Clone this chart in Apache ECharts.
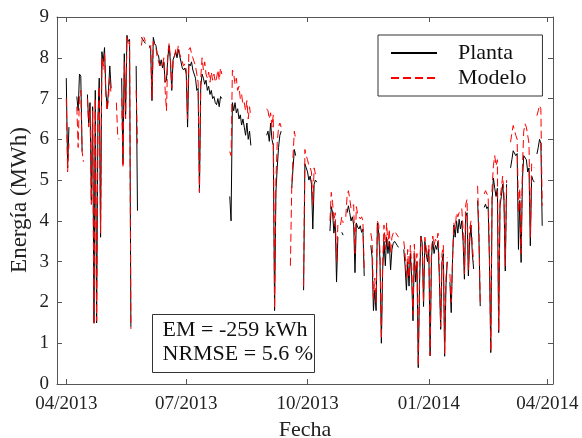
<!DOCTYPE html>
<html><head><meta charset="utf-8">
<script src="https://cdn.jsdelivr.net/npm/echarts@6/dist/echarts.min.js"></script>
<style>html,body{margin:0;padding:0;background:#fff}#c{width:582px;height:438px}</style>
</head><body><div id="c"></div>
<script>
// Daily energy (MWh), first value = 2013-04-01
const startDate = '2013-04-01';
const planta = [
7.5,5.3,6.3,null,null,null,null,null,7.05,6.7,
7.6,7.55,5.7,null,null,null,7.1,6.4,6.9,4.5,
6.8,1.5,7.2,1.5,6.5,7.5,3.6,8.15,7.9,8.25,
7.2,6.75,7.2,7.8,7.25,null,null,null,null,null,
null,null,7.5,5.4,8.1,6.6,8.55,8.4,8.45,1.4,
null,null,null,7.8,4.25,null,null,8.5,8.45,8.4,
8.35,null,null,8.3,8.2,6.95,8.5,8.35,8.3,8.1,
8.05,7.8,7.95,7.75,7.9,7.4,7.45,8.0,8.3,7.9,
7.2,7.95,8.05,8.15,8.0,8.2,8.05,7.9,7.75,7.7,
7.75,7.6,6.3,7.85,7.8,7.9,7.7,7.7,7.5,7.2,
7.25,4.7,7.3,7.6,7.5,7.35,7.45,7.2,7.3,7.1,
7.2,7.0,7.05,6.9,6.85,7.0,6.8,7.05,7.0,null,
null,null,null,null,4.6,4.0,6.9,6.7,6.9,6.65,
6.75,6.5,6.6,6.35,6.5,6.3,6.1,6.4,6.0,6.2,
5.85,null,null,null,null,null,null,null,null,null,
null,null,6.1,6.2,5.95,6.4,6.0,5.85,1.8,4.7,
5.3,5.8,6.1,6.2,null,null,null,null,null,null,
null,4.8,5.3,5.75,5.6,null,null,null,null,null,
2.3,5.4,5.3,5.2,5.0,5.1,4.9,3.8,4.9,5.0,
4.95,null,null,null,null,null,null,null,null,null,
3.75,4.35,4.2,3.7,4.0,2.5,3.6,null,null,3.72,
3.65,null,null,4.2,4.37,4.2,4.0,4.1,3.9,2.73,
3.95,3.85,3.8,3.88,3.72,3.8,2.65,null,null,null,
null,3.4,3.1,1.8,2.3,1.8,3.95,3.7,3.0,1.0,
2.8,3.5,2.9,3.6,3.2,3.5,2.8,3.3,3.45,3.5,
3.45,3.4,3.35,null,null,null,3.3,2.9,2.3,3.0,
2.4,3.2,2.6,1.55,3.2,2.5,3.0,0.4,2.5,3.63,
3.45,1.9,3.5,3.2,3.0,3.3,0.69,3.1,3.5,3.2,
3.4,3.3,3.5,2.6,1.34,3.0,3.2,0.68,2.4,3.0,
null,2.5,1.75,3.06,3.9,3.6,4.0,3.7,4.04,3.8,
4.0,3.5,2.57,4.1,4.2,2.65,3.5,3.9,3.2,2.82,
null,null,4.5,3.6,1.91,null,null,4.33,4.41,4.3,
4.35,3.0,0.77,4.5,5.05,4.8,4.6,4.8,1.26,4.37,
4.6,4.9,4.5,2.77,4.9,null,null,5.3,5.5,5.72,
5.7,5.6,5.65,3.3,4.5,2.98,5.0,5.6,5.64,5.5,
5.2,5.3,3.39,5.1,5.0,4.95,null,5.64,5.8,6.0,
5.9,3.88
];
const modelo = [
7.0,5.2,5.9,null,null,null,null,null,6.8,5.8,
7.1,7.2,5.7,5.45,null,null,7.0,6.3,6.8,4.4,
6.7,1.45,7.0,1.55,6.4,7.3,3.7,8.0,7.7,8.1,
7.1,6.7,7.0,7.5,7.1,null,null,null,6.9,6.1,
6.0,null,7.0,5.3,7.9,6.5,8.5,8.3,8.4,1.35,
null,null,null,7.2,5.9,null,null,8.3,8.55,8.5,
8.4,null,null,8.25,8.3,7.0,8.4,8.3,8.25,8.0,
7.9,7.8,7.85,7.8,8.0,7.2,6.7,8.1,8.35,8.0,
7.25,7.9,8.0,8.2,8.1,8.3,8.1,8.0,7.9,7.8,
7.85,7.7,6.5,8.2,8.25,8.1,8.0,7.9,7.8,7.6,
7.4,4.7,7.5,8.0,7.7,7.9,7.6,7.5,7.65,7.4,
7.65,7.45,7.6,7.4,7.5,7.7,7.45,7.75,7.6,null,
null,null,null,null,5.7,5.6,7.7,7.6,7.35,7.5,
7.2,7.3,7.0,7.1,6.85,6.9,6.7,6.95,6.5,6.8,
6.55,null,null,null,null,null,null,null,null,null,
null,null,6.75,6.7,6.5,6.65,6.3,6.6,1.85,5.0,
5.9,6.3,6.4,6.3,null,null,null,null,null,null,
2.9,4.8,5.6,6.2,6.0,null,null,null,null,null,
2.4,5.75,5.6,5.5,5.35,5.3,5.2,4.4,5.3,5.15,
5.1,null,null,null,null,null,null,null,null,null,
4.0,4.7,4.45,4.0,4.2,3.0,3.9,null,3.9,4.1,
3.95,null,4.1,4.6,4.74,4.55,4.3,4.35,4.4,3.2,
4.35,4.17,4.1,4.05,4.1,4.0,2.8,null,null,null,
null,3.7,3.5,2.1,2.6,2.0,4.0,3.9,3.2,1.1,
3.0,3.9,3.3,3.95,3.4,3.8,3.2,3.6,3.7,3.75,
3.7,3.65,3.6,null,null,null,3.5,3.2,2.6,3.3,
2.6,3.4,2.9,1.7,3.43,2.7,3.2,0.45,2.8,3.6,
3.5,2.0,3.6,3.35,3.1,3.4,0.7,3.3,3.63,3.4,
3.55,3.5,3.7,2.8,1.4,3.2,3.4,0.75,2.6,3.1,
null,2.7,2.0,3.05,3.95,3.8,4.2,4.1,4.2,4.25,
4.3,3.8,2.7,4.4,4.53,2.8,3.8,4.0,3.4,3.0,
null,null,4.86,3.8,2.0,null,null,4.66,4.74,4.7,
4.6,3.2,0.8,4.8,5.35,5.6,5.35,5.5,1.3,4.5,
4.8,5.1,4.7,2.9,5.0,null,null,5.93,6.15,6.34,
6.3,6.1,6.0,4.2,4.8,3.2,5.3,6.2,6.38,6.3,
6.1,5.9,3.6,5.4,5.4,5.3,null,6.58,6.7,6.83,
6.75,4.37
];
const tickDates = ['2013-04-01','2013-07-01','2013-10-01','2014-01-01','2014-04-01'];
const tickLabels = ['04/2013','07/2013','10/2013','01/2014','04/2014'];
const seriesNames = ['Planta','Modelo'];
const yTitle = 'Energía (MWh)';
const xTitle = 'Fecha';
const annotation = ['EM = -259 kWh','NRMSE = 5.6 %'];

const DAY = 86400000;
const t0 = Date.parse(startDate);
// x in days since startDate
const toPairs = arr => arr.map((v,i)=>[i, v]);
const tickDays = tickDates.map(d=>Math.round((Date.parse(d)-t0)/DAY));
const xMin = -7.05;
const xMax = 369.2;
const FONT = 'Liberation Serif';
const AX = '#555';
const fmt = v => { const k = tickDays.indexOf(Math.round(v)); return k >= 0 ? tickLabels[k] : ''; };

const chart = echarts.init(document.getElementById('c'), null, {renderer:'canvas'});
chart.setOption({
  animation:false,
  backgroundColor:'#fff',
  grid:{left:57, right:29, top:17, bottom:54, containLabel:false, outerBoundsMode:'none'},
  xAxis:[{
    type:'value', min:xMin, max:xMax, position:'bottom',
    name:xTitle, nameLocation:'middle', nameGap:33,
    nameTextStyle:{fontFamily:FONT, fontSize:22, color:'#222'},
    axisLine:{show:true, onZero:false, lineStyle:{color:AX, width:1}},
    axisTick:{show:true, inside:true, length:5, customValues:tickDays, lineStyle:{color:AX}},
    axisLabel:{customValues:tickDays, formatter:fmt, fontFamily:FONT, fontSize:19, color:'#222', margin:11, showMinLabel:true, showMaxLabel:true},
    splitLine:{show:false}
  },{
    type:'value', min:xMin, max:xMax, position:'top',
    axisLine:{show:true, onZero:false, lineStyle:{color:AX, width:1}},
    axisTick:{show:true, inside:true, length:5, customValues:tickDays, lineStyle:{color:AX}},
    axisLabel:{show:false}, splitLine:{show:false}
  }],
  yAxis:[{
    type:'value', min:0, max:9, interval:1, position:'left',
    axisLine:{show:true, onZero:false, lineStyle:{color:AX, width:1}},
    axisTick:{show:true, inside:true, length:5, lineStyle:{color:AX}},
    axisLabel:{fontFamily:FONT, fontSize:19, color:'#222', margin:8},
    splitLine:{show:false}
  },{
    type:'value', min:0, max:9, interval:1, position:'right',
    axisLine:{show:true, onZero:false, lineStyle:{color:AX, width:1}},
    axisTick:{show:true, inside:true, length:5, lineStyle:{color:AX}},
    axisLabel:{show:false}, splitLine:{show:false}
  }],
  legend:{
    left:378, top:35, orient:'vertical',
    backgroundColor:'#fff', borderColor:'#333', borderWidth:1, borderRadius:0,
    padding:[7,16,7,12], itemGap:3, itemWidth:46, itemHeight:14,
    itemStyle:{opacity:0},
    textStyle:{fontFamily:FONT, fontSize:22, color:'#111', padding:[0,0,0,16]},
    data:seriesNames.map(n=>({name:n}))
  },
  series:[{
    name:seriesNames[0], type:'line', data:toPairs(planta), showSymbol:false, symbol:'none',
    connectNulls:false, lineStyle:{color:'#000', width:1}, itemStyle:{color:'#000'}, z:2
  },{
    name:seriesNames[1], type:'line', data:toPairs(modelo), showSymbol:false, symbol:'none',
    connectNulls:false, lineStyle:{color:'#ff0000', width:1, type:[8,4]}, itemStyle:{color:'#ff0000'}, z:3
  }],
  graphic:[{
    type:'text', x:20, y:200, rotation:Math.PI/2, z:100,
    style:{text:yTitle, font:'23px "Liberation Serif"', fill:'#222', align:'center', verticalAlign:'middle'}
  },{
    type:'group', left:152, top:314, z:100,
    children:[{
      type:'rect', shape:{x:0,y:0,width:162,height:58},
      style:{fill:'#fff', stroke:'#333', lineWidth:1}
    },{
      type:'text', x:10, y:4,
      style:{text:annotation.join('\n'), font:'22px "Liberation Serif"', fill:'#111', lineHeight:24}
    }]
  }]
});
</script></body></html>
